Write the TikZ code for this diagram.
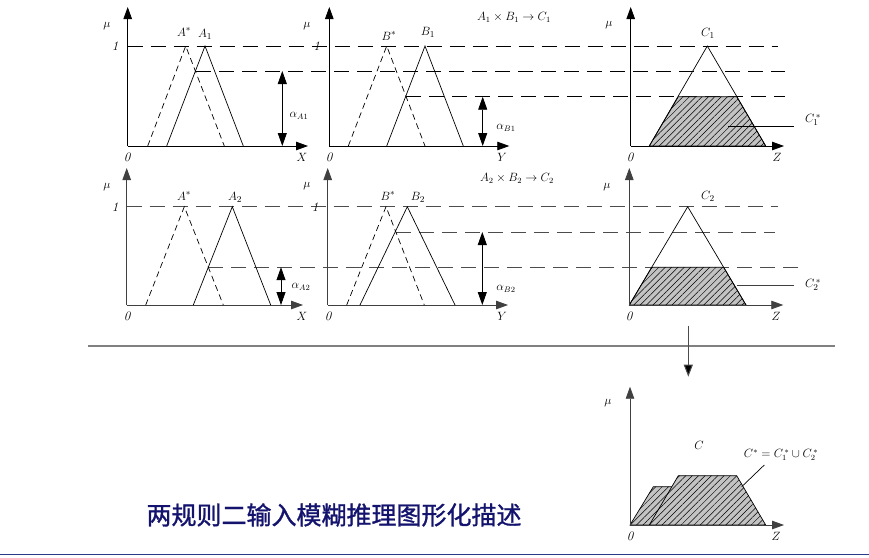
\documentclass[tikz,border=0pt]{standalone}
\usepackage{fontspec}
\newfontfamily\cjk[FakeBold=1.2]{Noto Sans CJK SC}
\usetikzlibrary{arrows.meta,patterns.meta}
\definecolor{titleblue}{RGB}{20,20,110}
\definecolor{navyline}{RGB}{40,60,140}
\definecolor{sepgray}{RGB}{128,128,128}
\definecolor{hatchgray}{RGB}{195,195,195}
\begin{document}
\begin{tikzpicture}[x=1pt,y=-1pt,
  axis/.style={-{Triangle[width=8.5pt,length=12pt]}, line width=0.8pt},
  dline/.style={dash pattern=on 15pt off 8pt, line width=0.8pt},
  mfdash/.style={dash pattern=on 6pt off 4pt, line width=0.7pt},
  mfsolid/.style={line width=0.7pt},
  alph/.style={{Triangle[width=9pt,length=13pt]}-{Triangle[width=9pt,length=13pt]}, line width=0.8pt},
  hatch/.style={fill=hatchgray, postaction={pattern={Lines[angle=45,distance=4.5pt,line width=0.5pt]}}, line width=0.7pt},
  lab/.style={font=\fontsize{13}{15}\selectfont, inner sep=0pt},
  slab/.style={font=\fontsize{11.5}{13}\selectfont, inner sep=0pt},
  row2/.style={draw=black!75}
]
\useasboundingbox (0,0) rectangle (869,557);

% ---------- shared dashed alpha lines, top row ----------
\draw[dline] (127.7,46) -- (778,46);
\draw[dline] (196,71) -- (785,71);
\draw[dline] (405.8,96.7) -- (785,96.7);

% ---------- top row panel 1 ----------
\coordinate (O1) at (127.7,146);
\coordinate (Y1) at (127.7,7);
\coordinate (X1) at (308,146);
\draw[axis] (O1) -- (Y1);
\draw[axis] (O1) -- (X1);
\draw[mfdash] (147.7,146) -- (185.7,46) -- (224.3,146);
\draw[mfsolid] (166.7,146) -- (205,46) -- (243.3,146);
\coordinate (a1t) at (282.3,71);
\coordinate (a1b) at (282.3,146);
\draw[alph] (a1t) -- (a1b);
\node[lab] (mu1) at (107,26) {$\mu$};
\node[lab] (one1) at (115,46) {\itshape 1};
\node[lab] (zero1) at (127,157) {\itshape 0};
\node[lab] (xl1) at (302,157) {$X$};
\node[lab] (As1) at (184,32) {$A^*$};
\node[lab] (A1) at (205,34) {$A_1$};
\node[slab] (alA1) at (299,116) {$\alpha_{A1}$};

% ---------- top row panel 2 ----------
\coordinate (O2) at (329.3,146);
\coordinate (Y2) at (329.3,7);
\coordinate (X2) at (509.3,146);
\draw[axis] (O2) -- (Y2);
\draw[axis] (O2) -- (X2);
\draw[mfdash] (348.3,146) -- (386.7,46) -- (425,146);
\draw[mfsolid] (386.7,146) -- (425,46) -- (463.3,146);
\coordinate (b1t) at (482.7,96.7);
\coordinate (b1b) at (482.7,146);
\draw[alph] (b1t) -- (b1b);
\node[lab] (mu2) at (307,26) {$\mu$};
\node[lab] (one2) at (316.7,46) {\itshape 1};
\node[lab] (zero2) at (329,157) {\itshape 0};
\node[lab] (yl2) at (502,157) {$Y$};
\node[lab] (Bs1) at (389,36) {$B^*$};
\node[lab] (B1) at (428,32) {$B_1$};
\node[slab] (alB1) at (506,128) {$\alpha_{B1}$};
\node[slab] (rule1) at (514,17) {$A_1\times B_1\rightarrow C_1$};

% ---------- top row panel 3 ----------
\coordinate (O3) at (630.7,146);
\coordinate (Y3) at (630.7,7);
\coordinate (X3) at (784,146);
\draw[hatch] (649.3,146) -- (678.3,96.7) -- (736.7,96.7) -- (765.7,146) -- cycle;
\draw[mfsolid] (649.3,146) -- (707.3,46) -- (765.7,146);
\draw[axis] (O3) -- (Y3);
\draw[axis] (O3) -- (X3);
\node[lab] (mu3) at (609,25) {$\mu$};
\node[lab] (zero3) at (630,157) {\itshape 0};
\node[lab] (zl3) at (777,157) {$Z$};
\node[lab] (C1) at (708,33) {$C_1$};
\node[lab] (C1s) at (813,120) {$C_1^{\,*}$};
\coordinate (c1p) at (728.3,126);
\coordinate (c1q) at (794,126);
\draw[mfsolid] (c1p) -- (c1q);

% ---------- bottom row shared dashed lines ----------
\draw[dline, draw=black!70] (126.7,206.7) -- (778,206.7);
\draw[dline, draw=black!70] (208.3,267.2) -- (798,267.2);
\draw[dline, draw=black!70] (395.8,232) -- (775,232);

% ---------- bottom row panel 1 ----------
\coordinate (O4) at (126.7,305);
\coordinate (Y4) at (126.7,168);
\coordinate (X4) at (303,305);
\draw[axis, row2] (O4) -- (Y4);
\draw[axis, row2] (O4) -- (X4);
\draw[mfdash] (145.7,305) -- (184.3,206.7) -- (223.3,305);
\draw[mfsolid] (193.3,305) -- (232.3,206.7) -- (270.7,305);
\coordinate (a2t) at (281,267.2);
\coordinate (a2b) at (281,305);
\draw[alph] (a2t) -- (a2b);
\node[lab] (mu4) at (107,187) {$\mu$};
\node[lab] (one4) at (115,207) {\itshape 1};
\node[lab] (zero4) at (127,316) {\itshape 0};
\node[lab] (xl4) at (302,316) {$X$};
\node[lab] (As2) at (184,196) {$A^*$};
\node[lab] (A2) at (235,197) {$A_2$};
\node[slab] (alA2) at (301,287) {$\alpha_{A2}$};

% ---------- bottom row panel 2 ----------
\coordinate (O5) at (327.7,305);
\coordinate (Y5) at (327.7,168);
\coordinate (X5) at (508,305);
\draw[axis, row2] (O5) -- (Y5);
\draw[axis, row2] (O5) -- (X5);
\draw[mfdash] (346.7,305) -- (386,206.7) -- (424.3,305);
\draw[mfsolid] (360,305) -- (407.3,206.7) -- (455,305);
\coordinate (b2t) at (482.3,232);
\coordinate (b2b) at (482.3,305);
\draw[alph] (b2t) -- (b2b);
\node[lab] (mu5) at (307,186) {$\mu$};
\node[lab] (one5) at (315,207) {\itshape 1};
\node[lab] (zero5) at (328,316) {\itshape 0};
\node[lab] (yl5) at (502,316) {$Y$};
\node[lab] (Bs2) at (388,196) {$B^*$};
\node[lab] (B2) at (418,197) {$B_2$};
\node[slab] (alB2) at (506,289) {$\alpha_{B2}$};
\node[slab] (rule2) at (517,178) {$A_2\times B_2\rightarrow C_2$};

% ---------- bottom row panel 3 ----------
\coordinate (O6) at (629.3,305);
\coordinate (Y6) at (629.3,168);
\coordinate (X6) at (783.3,305);
\draw[hatch] (629.3,305) -- (651.8,267.2) -- (723.6,267.2) -- (746,305) -- cycle;
\draw[mfsolid] (629.3,305) -- (687.7,206.7) -- (746,305);
\draw[axis, row2] (O6) -- (Y6);
\draw[axis, row2] (O6) -- (X6);
\node[lab] (mu6) at (607,187) {$\mu$};
\node[lab] (zero6) at (629,316) {\itshape 0};
\node[lab] (zl6) at (776,316) {$Z$};
\node[lab] (C2) at (708,196) {$C_2$};
\node[lab] (C2s) at (813,285) {$C_2^{\,*}$};
\coordinate (c2p) at (736.7,285.7);
\coordinate (c2q) at (794,285.7);
\draw[mfsolid, draw=black!75] (c2p) -- (c2q);

% ---------- separator and arrow ----------
\coordinate (sepL) at (88,345.7);
\coordinate (sepR) at (835,345.7);
\draw[line width=2pt, sepgray] (sepL) -- (sepR);
\coordinate (arS) at (688.3,325.7);
\coordinate (arE) at (688.3,376.7);
\draw[line width=1pt, draw=black!70, -{Triangle[width=9pt,length=12pt,fill=black]}] (arS) -- (arE);

% ---------- result panel ----------
\coordinate (O7) at (630,525);
\coordinate (Y7) at (630,386.7);
\coordinate (X7) at (784,525);
\draw[hatch] (630,525) -- (653.3,486.7) -- (724.3,486.7) -- (746,525) -- cycle;
\draw[hatch] (649.3,525) -- (678.3,475.7) -- (736.7,475.7) -- (765.7,525) -- cycle;
\draw[axis, row2] (O7) -- (Y7);
\draw[axis, row2] (O7) -- (X7);
\node[lab] (mu7) at (608,403) {$\mu$};
\node[lab] (zero7) at (630,536) {\itshape 0};
\node[lab] (zl7) at (776,536) {$Z$};
\node[lab] (Cl) at (699,445) {$C$};
\node[slab] (Cs) at (781,455) {$C^{*}=C_1^{\,*}\cup C_2^{\,*}$};
\coordinate (cp) at (741.7,486.7);
\coordinate (cq) at (764.3,465);
\draw[mfsolid] (cp) -- (cq);

% ---------- title ----------
\node[font=\cjk\fontsize{25}{30}\selectfont, text=titleblue, inner sep=0pt] (title) at (334,515) {两规则二输入模糊推理图形化描述};
\coordinate (blL) at (0,554.5);
\coordinate (blR) at (869,554.5);
\draw[line width=1.5pt, navyline] (blL) -- (blR);
\end{tikzpicture}
\end{document}
